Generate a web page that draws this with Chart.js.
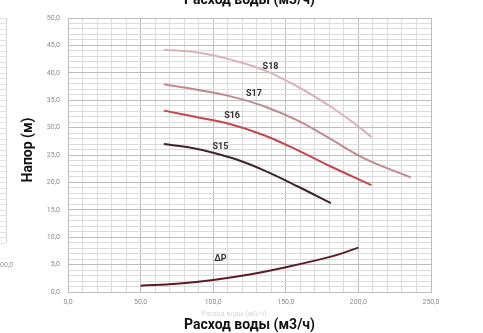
<!DOCTYPE html>
<html>
<head>
<meta charset="utf-8">
<script src="https://cdn.jsdelivr.net/npm/chart.js@4/dist/chart.umd.min.js"></script>
<style>
  html, body { margin: 0; padding: 0; background: #fff; }
  #wrap { width: 483px; height: 333px; }
</style>
</head>
<body>
<div id="wrap"><canvas id="chart" width="483" height="333"></canvas></div>
<script>
// Flow (m3/h) vs head (m) for each pump curve
const s18Flow = [66, 89, 112, 135, 158, 181, 199, 209];
const s18Head = [44.2, 43.7, 42.4, 40.5, 37.5, 33.8, 30.4, 28.3];
const s17Flow = [66, 89, 112, 135, 158, 181, 204, 236];
const s17Head = [37.9, 36.9, 35.7, 33.9, 31.3, 27.9, 24.4, 20.9];
const s16Flow = [66, 89, 112, 135, 158, 181, 209];
const s16Head = [33.1, 31.9, 30.6, 28.6, 25.9, 22.9, 19.5];
const s15Flow = [66, 83, 100, 118, 135, 158, 181];
const s15Head = [27.0, 26.4, 25.4, 24.0, 22.2, 19.3, 16.2];
const dpFlow = [50, 75, 100, 125, 146, 181, 200];
const dpHead = [1.15, 1.5, 2.2, 3.2, 4.3, 6.45, 8.1];

// Curve names and where their labels sit (data units)
const curveNames = ['S18', 'S17', 'S16', 'S15', 'ΔP'];
const labelFlow = [139.5, 128, 113, 105, 105];
const labelHead = [41.1, 36.1, 32.1, 26.5, 6.15];

const xTitle = 'Расход воды (м3/ч)';
const yTitle = 'Напор (м)';

const condensed = '"Liberation Sans Narrow", "Roboto", "Liberation Sans", sans-serif';

const toPoints = (xs, ys) => xs.map((x, i) => ({ x: x, y: ys[i] }));
const fmt = v => v.toFixed(1).replace('.', ',');

const curve = (label, xs, ys, color) => ({
  label: label,
  data: toPoints(xs, ys),
  borderColor: color,
  borderWidth: 2,
  pointRadius: 0,
  tension: 0.4,
  fill: false
});

// Labels next to each curve and the text around the plot
const decorations = {
  id: 'decorations',
  afterDatasetsDraw(chart) {
    const ctx = chart.ctx;
    const xs = chart.scales.x;
    const ys = chart.scales.y;
    ctx.save();
    ctx.fillStyle = '#333';
    ctx.font = 'bold 9px ' + condensed;
    ctx.textAlign = 'center';
    ctx.textBaseline = 'middle';
    curveNames.forEach((name, i) => {
      ctx.fillText(name, xs.getPixelForValue(labelFlow[i]), ys.getPixelForValue(labelHead[i]));
    });
    ctx.restore();
  },
  afterDraw(chart) {
    const ctx = chart.ctx;
    const area = chart.chartArea;
    const ys = chart.scales.y;
    const mid = (area.left + area.right) / 2;
    ctx.save();

    // remnant of the neighbouring chart on the left edge
    ctx.strokeStyle = '#e2e2e2';
    ctx.lineWidth = 1;
    for (let v = 9; v <= 50; v++) {
      const y = Math.round(ys.getPixelForValue(v)) + 0.5;
      ctx.beginPath(); ctx.moveTo(0, y); ctx.lineTo(6, y); ctx.stroke();
    }
    ctx.strokeStyle = '#d4d4d4';
    ctx.beginPath(); ctx.moveTo(6.5, ys.getPixelForValue(50)); ctx.lineTo(6.5, ys.getPixelForValue(9)); ctx.stroke();
    ctx.fillStyle = '#999';
    ctx.font = '7px ' + condensed;
    ctx.textAlign = 'left';
    ctx.textBaseline = 'middle';
    ctx.fillText('00,0', 0, 265);

    // title cut at the top
    ctx.fillStyle = '#111';
    ctx.font = 'bold 14px ' + condensed;
    ctx.textAlign = 'center';
    ctx.textBaseline = 'middle';
    ctx.fillText(xTitle, mid, 0);

    // faint label under the axis
    ctx.fillStyle = '#d6d6d6';
    ctx.font = '7px ' + condensed;
    ctx.fillText(xTitle, 234, 314);

    // axis titles
    ctx.fillStyle = '#111';
    ctx.font = 'bold 14px ' + condensed;
    ctx.fillText(xTitle, mid, 325);
    ctx.translate(28, 150);
    ctx.rotate(-Math.PI / 2);
    ctx.fillText(yTitle, 0, 0);
    ctx.restore();
  }
};

new Chart(document.getElementById('chart'), {
  type: 'line',
  data: {
    datasets: [
      curve('S18', s18Flow, s18Head, '#dcb2b8'),
      curve('S17', s17Flow, s17Head, '#bf8a90'),
      curve('S16', s16Flow, s16Head, '#c2474f'),
      curve('S15', s15Flow, s15Head, '#3c2428'),
      curve('ΔP', dpFlow, dpHead, '#5a1c26')
    ]
  },
  options: {
    responsive: false,
    animation: false,
    layout: { padding: { top: 18, right: 52, left: 0, bottom: 0 } },
    plugins: {
      legend: { display: false },
      tooltip: { enabled: false }
    },
    scales: {
      x: {
        type: 'linear',
        min: 0,
        max: 250,
        afterFit: s => { s.height = 41; },
        afterBuildTicks: s => {
          s.ticks = [];
          for (let v = 0; v <= 250; v += 10) s.ticks.push({ value: v });
        },
        ticks: {
          autoSkip: false,
          maxRotation: 0,
          padding: 6,
          color: '#8a8a8a',
          font: { size: 7, family: condensed },
          callback: v => (v % 50 === 0 ? fmt(v) : '')
        },
        grid: {
          drawTicks: false,
          color: c => (c.tick.value % 50 === 0 ? '#bdbdbd' : '#dcdcdc'),
          lineWidth: 1
        },
        border: { color: '#bdbdbd' }
      },
      y: {
        min: 0,
        max: 50,
        afterFit: s => { s.width = 68; },
        afterBuildTicks: s => {
          s.ticks = [];
          for (let v = 0; v <= 50; v += 1) s.ticks.push({ value: v });
        },
        ticks: {
          autoSkip: false,
          padding: 8,
          color: '#8a8a8a',
          font: { size: 7, family: condensed },
          callback: v => (v % 5 === 0 ? fmt(v) : '')
        },
        grid: {
          drawTicks: false,
          color: c => (c.tick.value % 5 === 0 ? '#bdbdbd' : '#dcdcdc'),
          lineWidth: 1
        },
        border: { color: '#bdbdbd' }
      }
    }
  },
  plugins: [decorations]
});
</script>
</body>
</html>
